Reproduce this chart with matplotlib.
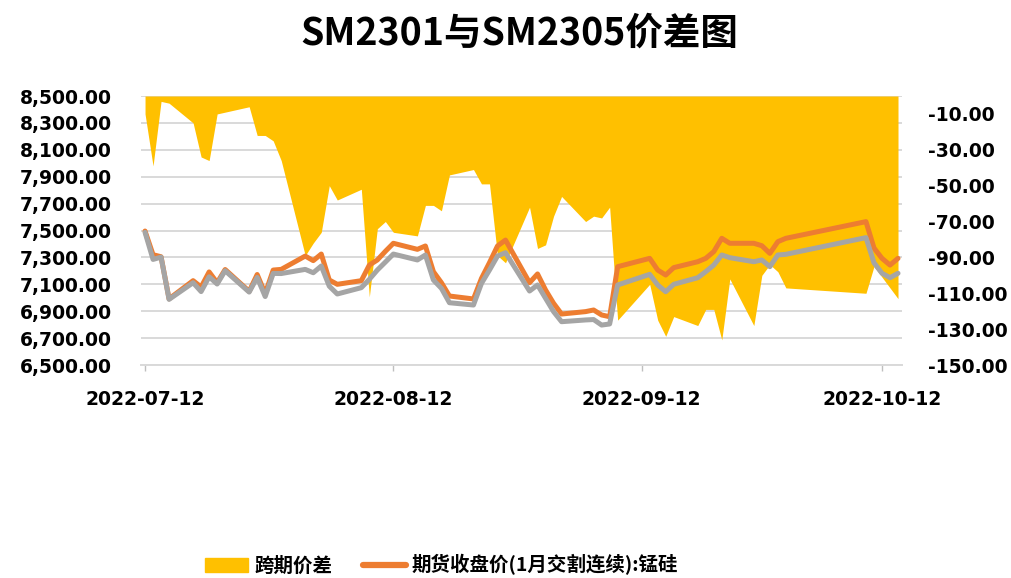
# SM2301 vs SM2305 spread chart
import matplotlib
matplotlib.use("Agg")
import matplotlib.pyplot as plt
import matplotlib.ticker as mticker
from matplotlib.lines import Line2D
from matplotlib.patches import Patch
import pandas as pd

plt.rcParams['font.family'] = ['Noto Sans CJK SC', 'DejaVu Sans']

# -------------------------------
# Data
# -------------------------------
dates = [
    "2022-07-12", "2022-07-13", "2022-07-14", "2022-07-15",
    "2022-07-18", "2022-07-19", "2022-07-20", "2022-07-21", "2022-07-22",
    "2022-07-25", "2022-07-26", "2022-07-27", "2022-07-28", "2022-07-29",
    "2022-08-01", "2022-08-02", "2022-08-03", "2022-08-04", "2022-08-05",
    "2022-08-08", "2022-08-09", "2022-08-10", "2022-08-11", "2022-08-12",
    "2022-08-15", "2022-08-16", "2022-08-17", "2022-08-18", "2022-08-19",
    "2022-08-22", "2022-08-23", "2022-08-24", "2022-08-25", "2022-08-26",
    "2022-08-29", "2022-08-30", "2022-08-31", "2022-09-01", "2022-09-02",
    "2022-09-05", "2022-09-06", "2022-09-07", "2022-09-08", "2022-09-09",
    "2022-09-13", "2022-09-14", "2022-09-15", "2022-09-16",
    "2022-09-19", "2022-09-20", "2022-09-21", "2022-09-22", "2022-09-23",
    "2022-09-26", "2022-09-27", "2022-09-28", "2022-09-29", "2022-09-30",
    "2022-10-10", "2022-10-11", "2022-10-12", "2022-10-13", "2022-10-14",
]

spread = [
    -10, -39, -3, -4,
    -15, -34, -36, -10, -9,
    -6, -22, -22, -25, -36,
    -89, -82, -76, -50, -58,
    -52, -112, -74, -70, -76,
    -78, -61, -61, -64, -44,
    -41, -49, -49, -89, -93,
    -62, -85, -83, -67, -56,
    -70, -67, -68, -62, -125,
    -105, -125, -134, -123,
    -128, -119, -119, -136, -102,
    -128, -100, -94, -98, -107,
    -110, -95, -101, -107, -113,
]

close_2301 = [
    7496, 7320, 7305, 6992,
    7127, 7080, 7192, 7112, 7210,
    7048, 7173, 7031, 7206, 7211,
    7310, 7276, 7325, 7132, 7100,
    7127, 7243, 7281, 7345, 7405,
    7360, 7385, 7194, 7112, 7013,
    6991, 7144, 7261, 7385, 7429,
    7112, 7177, 7058, 6959, 6879,
    6897, 6909, 6872, 6859, 7231,
    7293, 7206, 7169, 7224,
    7268, 7293, 7343, 7442, 7405,
    7405, 7387, 7330, 7417, 7442,
    7566, 7370, 7293, 7243, 7293,
]

close_2305 = [
    7486, 7285, 7302, 6988,
    7112, 7046, 7156, 7102, 7201,
    7042, 7151, 7009, 7181, 7180,
    7211, 7186, 7236, 7086, 7028,
    7075, 7137, 7206, 7265, 7325,
    7281, 7318, 7132, 7070, 6963,
    6946, 7107, 7206, 7310, 7335,
    7050, 7095, 6996, 6897, 6822,
    6835, 6838, 6797, 6805, 7095,
    7174, 7095, 7045, 7100,
    7149, 7194, 7243, 7318, 7298,
    7268, 7281, 7231, 7318, 7323,
    7447, 7260, 7182, 7149, 7182,
]

tick_dates = ["2022-07-12", "2022-08-12", "2022-09-12", "2022-10-12"]

legend_labels = ["跨期价差", "期货收盘价(1月交割连续):锰硅"]
title = "SM2301与SM2305价差图"

# -------------------------------
# Plot
# -------------------------------
x = pd.to_datetime(dates)
tick_font = dict(family="DejaVu Sans", weight="bold", size=13.5)

fig = plt.figure(figsize=(10.11, 5.78), dpi=100)
ax = fig.add_axes([0.1395, 0.3685, 0.7527, 0.4654])

# left price axis + gridlines
ax.set_ylim(6500, 8500)
ax.set_yticks(range(6500, 8501, 200))
ax.yaxis.set_major_formatter(mticker.FuncFormatter(lambda v, p: f"{v:,.2f}"))
ax.yaxis.grid(True, color="#D9D9D9", lw=1.4)
ax.set_axisbelow(True)
ax.tick_params(axis="y", length=0, pad=21)
for s in ("left", "right", "top"):
    ax.spines[s].set_visible(False)
ax.spines["bottom"].set_color("#D9D9D9")
ax.spines["bottom"].set_linewidth(1.4)

ax.set_xlim(pd.Timestamp("2022-07-11 12:00"), pd.Timestamp("2022-10-14 12:00"))
ax.set_xticks(pd.to_datetime(tick_dates))
ax.set_xticklabels(tick_dates)
ax.tick_params(axis="x", length=4, width=1, color="#BFBFBF", pad=14)

for lbl in ax.get_xticklabels() + ax.get_yticklabels():
    lbl.set_fontproperties(tick_font)

# right spread axis (area from 0 down to value)
ax_r = ax.twinx()
ax_r.fill_between(x, spread, 0, color="#FFC000", lw=0)
ax_r.set_ylim(-150, 0)
ax_r.set_yticks(range(-150, 0, 20))
ax_r.yaxis.set_major_formatter(mticker.FuncFormatter(lambda v, p: f"{v:.2f}"))
ax_r.tick_params(axis="y", length=0, pad=19)
for s in ax_r.spines.values():
    s.set_visible(False)
for lbl in ax_r.get_yticklabels():
    lbl.set_fontproperties(tick_font)

# price lines on top of the area
ax_p = ax.twinx()
ax_p.set_ylim(6500, 8500)
ax_p.set_axis_off()
ax_p.plot(x, close_2301, color="#ED7D31", lw=3.6,
          solid_joinstyle="round", solid_capstyle="round")
ax_p.plot(x, close_2305, color="#A5A5A5", lw=3.6,
          solid_joinstyle="round", solid_capstyle="round")

fig.text(0.514, 0.943, title, ha="center", va="center",
         fontsize=27, fontweight="bold", family="Noto Sans CJK SC")

handles = [
    Patch(color="#FFC000"),
    Line2D([], [], color="#ED7D31", lw=4.5, solid_capstyle="round"),
]
fig.legend(handles, legend_labels, loc="center",
           bbox_to_anchor=(0.437, 1 - 565 / 578), ncol=2, frameon=False,
           prop=dict(family="Noto Sans CJK SC", weight="bold", size=14),
           handlelength=2.2, handleheight=0.7, handletextpad=0.3,
           columnspacing=1.6)

fig.savefig("out.png", dpi=100)
